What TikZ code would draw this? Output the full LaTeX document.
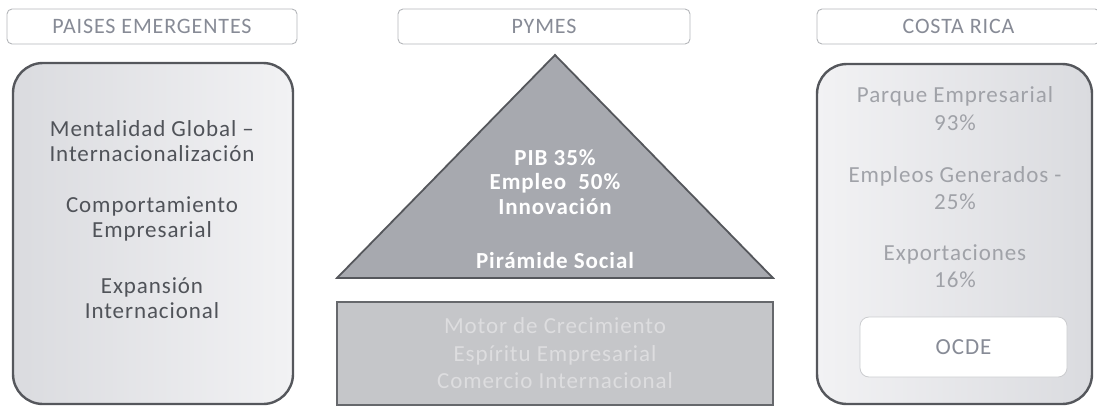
\documentclass[tikz,border=0pt]{standalone}
\usepackage{fontspec}
\setmainfont{Carlito}[LetterSpace=4]
\usetikzlibrary{positioning}

\definecolor{headtext}{HTML}{878B96}
\definecolor{headline}{HTML}{B4B6BA}
\definecolor{boxline}{HTML}{55575C}
\definecolor{boxlight}{HTML}{F2F2F4}
\definecolor{boxdark}{HTML}{DADBDF}
\definecolor{darktext}{HTML}{505359}
\definecolor{lighttext}{HTML}{A0A2A8}
\definecolor{pyramidfill}{HTML}{A7A9AF}
\definecolor{basefill}{HTML}{C5C6C9}
\definecolor{basetext}{HTML}{DDDDDF}

\begin{document}
\begin{tikzpicture}[x=1pt, y=-1pt,
    header/.style={draw=headline, line width=0.9pt, rounded corners=5pt, fill=white,
        text=headtext, font=\fontsize{22}{24}\selectfont, inner sep=0pt, minimum height=35pt},
    bigbox/.style={draw=boxline, line width=2.4pt, rounded corners=30pt, inner sep=0pt},
    txt/.style={align=center, inner sep=0pt, font=\fontsize{23}{25}\selectfont}
]
\useasboundingbox (0,0) rectangle (1097,408);

% column headers
\node[header, minimum width=290pt] (hpaises) at (152,26.5) {PAISES EMERGENTES};
\node[header, minimum width=292pt] (hpymes) at (544,26.5) {PYMES};
\node[header, minimum width=283pt] (hcosta) at (958.5,26.5) {COSTA RICA};

% left column
\node[bigbox, left color=boxdark, right color=boxlight,
    minimum width=280pt, minimum height=341pt] (paises) at (153,233.5) {};
\node[txt, text=darktext] (mental) at (152,141.5) {Mentalidad Global --\\Internacionalización};
\node[txt, text=darktext] (comport) at (152,219) {Comportamiento\\Empresarial};
\node[txt, text=darktext] (expans) at (152,298.5) {Expansión\\Internacional};

% middle column: pyramid and base
\coordinate (apex) at (555,55);
\coordinate (baseleft) at (337,278);
\coordinate (baseright) at (773,278);
\draw[draw=boxline, line width=1.8pt, fill=pyramidfill, line join=miter]
    (apex) -- (baseleft) -- (baseright) -- cycle;
\node[txt, text=white, font=\fontsize{23}{24.5}\selectfont\bfseries] (pib) at (555,182)
    {PIB 35\%\\Empleo\ \ 50\%\\Innovación};
\node[txt, text=white, font=\fontsize{23}{24}\selectfont\bfseries] (piramide) at (555,261) {Pirámide Social};

\node[draw=boxline!90, line width=2pt, fill=basefill, inner sep=0pt,
    minimum width=436pt, minimum height=103pt] (base) at (555,353.5) {};
\node[txt, text=basetext, font=\fontsize{23}{27.5}\selectfont] (motor) at (base.center)
    {Motor de Crecimiento\\Espíritu Empresarial\\Comercio Internacional};

% right column
\node[bigbox, left color=boxlight, right color=boxdark,
    minimum width=275pt, minimum height=340pt] (costa) at (954.5,234) {};
\node[txt, text=lighttext, font=\fontsize{23}{28}\selectfont] (parque) at (955,109) {Parque Empresarial\\93\%};
\node[txt, text=lighttext, font=\fontsize{23}{27}\selectfont] (empleos) at (955,188.5) {Empleos Generados -\\25\%};
\node[txt, text=lighttext, font=\fontsize{23}{27}\selectfont] (export) at (955,266.5) {Exportaciones\\16\%};
\node[draw=headline!70, line width=0.8pt, fill=white, rounded corners=9pt, inner sep=0pt,
    minimum width=207pt, minimum height=60pt, text=headtext,
    font=\fontsize{23}{24}\selectfont] (ocde) at (963.5,347) {OCDE};
\end{tikzpicture}
\end{document}
